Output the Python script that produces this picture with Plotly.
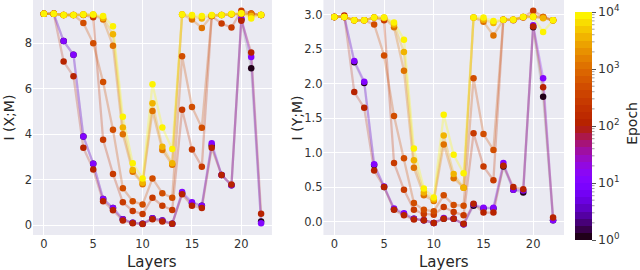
import numpy as np
import plotly.graph_objects as go

layers = list(range(23))
epochs = [1, 10, 120, 250, 500, 1200, 3500, 10000]

# I(X;M) per epoch
ixm_ep1 = [9.30, 9.30, 8.10, 7.50, 3.90, 2.70, 1.15, 0.75, 0.25, 0.10, 0.05, 0.30, 0.20, 0.05, 1.40, 0.95, 0.85, 3.50, 2.20, 1.75, 9.05, 6.90, 0.15]
ixm_ep10 = [9.30, 9.30, 8.10, 7.50, 3.90, 2.70, 1.15, 0.75, 0.25, 0.10, 0.05, 0.30, 0.20, 0.05, 1.45, 1.00, 0.85, 3.60, 2.20, 1.75, 9.10, 7.40, 0.08]
ixm_ep120 = [9.30, 9.32, 7.20, 6.55, 3.40, 2.45, 1.05, 0.65, 0.20, 0.08, 0.04, 0.25, 0.15, 0.05, 1.35, 0.85, 0.75, 3.40, 2.20, 1.78, 9.00, 7.60, 0.50]
ixm_ep250 = [9.30, 9.30, 9.25, 9.25, 9.25, 9.15, 3.75, 2.25, 1.00, 0.62, 0.48, 1.20, 0.85, 0.66, 5.08, 3.33, 2.57, 9.20, 8.87, 8.70, 9.44, 9.32, 9.25]
ixm_ep500 = [9.30, 9.30, 9.25, 9.25, 8.90, 8.00, 6.30, 4.20, 1.62, 1.05, 0.90, 2.05, 1.40, 1.20, 7.43, 5.20, 4.28, 9.20, 9.25, 9.28, 9.30, 9.30, 9.25]
ixm_ep1200 = [9.30, 9.30, 9.25, 9.25, 9.27, 9.25, 9.05, 7.90, 4.00, 2.35, 1.80, 5.02, 3.30, 2.65, 9.27, 9.05, 8.68, 9.22, 9.25, 9.28, 9.30, 9.30, 9.25]
ixm_ep3500 = [9.30, 9.30, 9.25, 9.25, 9.27, 9.27, 9.12, 8.40, 4.30, 2.42, 1.86, 5.36, 3.45, 2.72, 9.27, 9.20, 9.10, 9.23, 9.25, 9.28, 9.32, 9.20, 9.25]
ixm_ep10000 = [9.30, 9.30, 9.25, 9.25, 9.27, 9.27, 9.20, 8.75, 4.77, 2.72, 2.05, 6.20, 4.30, 3.35, 9.27, 9.25, 9.20, 9.25, 9.25, 9.30, 9.33, 9.10, 9.26]

# I(Y;M) per epoch
iym_ep1 = [2.97, 2.97, 2.31, 2.01, 0.82, 0.50, 0.18, 0.11, 0.04, 0.02, -0.02, 0.04, 0.04, -0.04, 0.23, 0.19, 0.19, 0.80, 0.46, 0.42, 2.82, 1.81, 0.02]
iym_ep10 = [2.97, 2.97, 2.33, 2.03, 0.83, 0.51, 0.19, 0.12, 0.04, 0.02, -0.02, 0.05, 0.04, -0.04, 0.25, 0.20, 0.20, 0.85, 0.46, 0.45, 2.85, 2.08, 0.02]
iym_ep120 = [2.97, 2.99, 1.88, 1.65, 0.74, 0.50, 0.17, 0.09, 0.03, 0.02, -0.02, 0.04, 0.04, -0.03, 0.26, 0.13, 0.13, 0.81, 0.50, 0.47, 2.83, 1.95, 0.06]
iym_ep250 = [2.97, 2.97, 2.92, 2.92, 2.96, 2.92, 0.85, 0.46, 0.17, 0.11, 0.10, 0.21, 0.14, 0.09, 1.28, 0.80, 0.60, 2.93, 2.92, 2.96, 3.06, 2.97, 2.92]
iym_ep500 = [2.97, 2.97, 2.92, 2.92, 2.86, 2.41, 1.53, 0.92, 0.27, 0.17, 0.15, 0.38, 0.24, 0.23, 2.08, 1.27, 1.04, 2.93, 2.93, 2.97, 2.97, 2.96, 2.92]
iym_ep1200 = [2.97, 2.97, 2.92, 2.92, 2.96, 2.95, 2.82, 2.19, 0.78, 0.38, 0.30, 1.12, 0.63, 0.49, 2.96, 2.90, 2.70, 2.93, 2.93, 2.97, 2.98, 2.97, 2.92]
iym_ep3500 = [2.97, 2.97, 2.92, 2.92, 2.96, 2.96, 2.86, 2.46, 0.89, 0.42, 0.32, 1.25, 0.69, 0.49, 2.96, 2.93, 2.88, 2.93, 2.93, 2.97, 2.98, 2.95, 2.92]
iym_ep10000 = [2.97, 2.97, 2.92, 2.92, 2.96, 2.96, 2.89, 2.64, 1.06, 0.48, 0.35, 1.55, 0.97, 0.70, 2.96, 2.96, 2.91, 2.93, 2.93, 2.97, 2.97, 2.75, 2.92]

ixm = [ixm_ep1, ixm_ep10, ixm_ep120, ixm_ep250, ixm_ep500, ixm_ep1200, ixm_ep3500, ixm_ep10000]
iym = [iym_ep1, iym_ep10, iym_ep120, iym_ep250, iym_ep500, iym_ep1200, iym_ep3500, iym_ep10000]

x_ticks = [0, 5, 10, 15, 20]
ixm_ticks = [0, 2, 4, 6, 8]
iym_ticks = [0, 0.5, 1, 1.5, 2, 2.5, 3]
cbar_tickvals = [0, 1, 2, 3, 4]
cbar_ticktext = ["10<sup>0</sup>", "10<sup>1</sup>", "10<sup>2</sup>", "10<sup>3</sup>", "10<sup>4</sup>"]


def gnuplot(t):
    t = min(max(t, 0.0), 1.0)
    r = np.sqrt(t)
    g = t ** 3
    b = max(0.0, np.sin(2 * np.pi * t))
    return int(round(r * 255)), int(round(g * 255)), int(round(b * 255))


nbands = 32
colorscale = []
for i in range(nbands):
    r, g, b = gnuplot((i + 0.5) / nbands)
    c = f"rgb({r},{g},{b})"
    colorscale.append([i / nbands, c])
    colorscale.append([(i + 1) / nbands, c])

fig = go.Figure()

line_order = [0, 2, 1, 3, 4, 5, 6, 7]
line_alpha = [0.10, 0.26, 0.24, 0.28, 0.28, 0.28, 0.28, 0.28]
for data, xa, ya in [(ixm, "x", "y"), (iym, "x2", "y2")]:
    for k in line_order:
        ep = epochs[k]
        r, g, b = gnuplot(np.log10(ep) / 4)
        fig.add_trace(go.Scatter(
            x=layers, y=data[k], mode="lines", xaxis=xa, yaxis=ya,
            line=dict(color=f"rgba({r},{g},{b},{line_alpha[k]})", width=2.3),
            showlegend=False, hoverinfo="skip"))

for panel, (data, xa, ya) in enumerate([(ixm, "x", "y"), (iym, "x2", "y2")]):
    for k, ep in enumerate(epochs):
        show = (panel == 1 and k == len(epochs) - 1)
        fig.add_trace(go.Scatter(
            x=layers, y=data[k], mode="markers", xaxis=xa, yaxis=ya,
            marker=dict(size=6.5, color=[np.log10(ep)] * len(layers),
                        colorscale=colorscale, cmin=0, cmax=4,
                        line=dict(width=0),
                        showscale=show,
                        colorbar=dict(
                            x=1.0207, xanchor="left", xpad=0,
                            y=-0.0213, yanchor="bottom", ypad=0,
                            len=0.970, lenmode="fraction",
                            thickness=17, outlinewidth=0,
                            tickvals=cbar_tickvals, ticktext=cbar_ticktext,
                            ticks="outside", ticklen=4, tickcolor="#555",
                            tickfont=dict(size=12.5, color="#333", family="DejaVu Sans"),
                        )),
            showlegend=False))

# minor ticks on colorbar
shapes = []
for d in range(4):
    for m in range(2, 10):
        v = d + np.log10(m)
        yp = -0.0213 + 0.970 * v / 4
        shapes.append(dict(type="line", xref="paper", yref="paper",
                           x0=1.0527, x1=1.0575, y0=yp, y1=yp,
                           line=dict(color="#888", width=0.8)))

title_font = dict(size=15, color="#262626", family="DejaVu Sans")
annotations = [
    dict(text="Layers", xref="paper", yref="paper", x=0.2235, y=-0.117, showarrow=False,
         xanchor="center", yanchor="middle", font=title_font),
    dict(text="Layers", xref="paper", yref="paper", x=0.7736, y=-0.117, showarrow=False,
         xanchor="center", yanchor="middle", font=title_font),
    dict(text="I (X;M)", xref="paper", yref="paper", x=-0.047, y=0.50, showarrow=False,
         xanchor="center", yanchor="middle", textangle=-90, font=dict(size=14, color="#262626", family="DejaVu Sans")),
    dict(text="I (Y;M)", xref="paper", yref="paper", x=0.497, y=0.50, showarrow=False,
         xanchor="center", yanchor="middle", textangle=-90, font=dict(size=14, color="#262626", family="DejaVu Sans")),
    dict(text="Epoch", xref="paper", yref="paper", x=1.128, y=0.477, showarrow=False,
         xanchor="center", yanchor="middle", textangle=-90, font=dict(size=14, color="#262626", family="DejaVu Sans")),
]

axis_common = dict(showgrid=True, gridcolor="white", gridwidth=1.2, zeroline=False, automargin=False,
                   showline=False, ticks="", tickfont=dict(size=11.5, color="#333", family="DejaVu Sans"))

fig.update_layout(
    width=640, height=270,
    margin=dict(l=33, r=76, t=0, b=35),
    paper_bgcolor="white", plot_bgcolor="#EAEAF2",
    font=dict(family="DejaVu Sans", color="#262626"),
    shapes=shapes, annotations=annotations,
    xaxis=dict(domain=[0, 0.450], range=[-1.1, 23.1], tickvals=x_ticks, **axis_common),
    yaxis=dict(range=[-0.44, 9.91], tickvals=ixm_ticks, **axis_common),
    xaxis2=dict(domain=[0.547, 1.0], range=[-1.1, 23.1], tickvals=x_ticks, anchor="y2", **axis_common),
    yaxis2=dict(range=[-0.195, 3.215], tickvals=iym_ticks, tickformat=".1f", anchor="x2", **axis_common),
)

fig.write_html("out.html", config={"displayModeBar": False},
               post_script="document.body.style.margin='0';document.body.style.padding='0';")
